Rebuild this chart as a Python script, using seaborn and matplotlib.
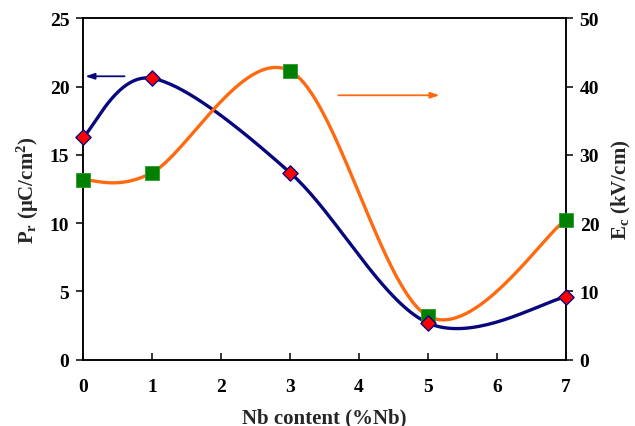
import numpy as np
import pandas as pd
import matplotlib
matplotlib.use("Agg")
import matplotlib.pyplot as plt
import seaborn as sns

# ---- data ----
nb_content = [0, 1, 3, 5, 7]                 # % Nb
pr_values = [16.3, 20.6, 13.7, 2.7, 4.6]     # Pr (uC/cm2), left axis
ec_values = [26.3, 27.4, 42.3, 6.4, 20.5]    # Ec (kV/cm), right axis
x_ticks = [0, 1, 2, 3, 4, 5, 6, 7]
pr_ticks = [0, 5, 10, 15, 20, 25]
ec_ticks = [0, 10, 20, 30, 40, 50]

sns.set_theme(style="ticks")
plt.rcParams["font.family"] = ["Liberation Serif", "DejaVu Serif"]
plt.rcParams["font.weight"] = "bold"
plt.rcParams["mathtext.fontset"] = "custom"
plt.rcParams["mathtext.rm"] = "Liberation Serif:bold"
plt.rcParams["mathtext.it"] = "Liberation Serif:bold"
plt.rcParams["mathtext.bf"] = "Liberation Serif:bold"


def smooth_curve(xs, ys, n=40):
    """Excel-style smoothed line: cubic Bezier segments through the data points."""
    P = np.column_stack([xs, ys]).astype(float)
    out = []
    for i in range(len(P) - 1):
        p0 = P[i - 1] if i > 0 else P[i]
        p1, p2 = P[i], P[i + 1]
        p3 = P[i + 2] if i + 2 < len(P) else P[i + 1]
        c1 = p1 + (p2 - p0) / 6.0
        c2 = p2 - (p3 - p1) / 6.0
        t = np.linspace(0, 1, n)[:, None]
        seg = ((1 - t) ** 3) * p1 + 3 * ((1 - t) ** 2) * t * c1 + 3 * (1 - t) * t ** 2 * c2 + t ** 3 * p2
        out.append(seg if i == 0 else seg[1:])
    seg = np.vstack(out)
    return pd.DataFrame({"x": seg[:, 0], "y": seg[:, 1]})


blue = "#08087e"
orange = "#ff6a10"

fig = plt.figure(figsize=(6.35, 4.27), dpi=100)
ax = fig.add_axes([0.131, 0.155, 0.760, 0.800])
ax2 = ax.twinx()

# Pr curve (left axis)
pr_smooth = smooth_curve(nb_content, pr_values)
sns.lineplot(data=pr_smooth, x="x", y="y", sort=False, estimator=None, ax=ax,
             color=blue, linewidth=2.4, zorder=3)

# Ec curve (right axis)
ec_smooth = smooth_curve(nb_content, ec_values)
sns.lineplot(data=ec_smooth, x="x", y="y", sort=False, estimator=None, ax=ax2,
             color=orange, linewidth=2.4, zorder=3)
sns.scatterplot(x=nb_content, y=ec_values, ax=ax2, marker="s", s=100,
                color="#008000", edgecolor="#2a9a2a", linewidth=0.6, zorder=4,
                clip_on=False)
# diamonds drawn on right axis scale (Pr x 2) so they sit on top of everything
sns.scatterplot(x=nb_content, y=[v * 2 for v in pr_values], ax=ax2, marker="D", s=60,
                color="#ff0000", edgecolor=blue, linewidth=1.0, zorder=5,
                clip_on=False)

ax.set_xlim(0, 7)
ax.set_ylim(0, 25)
ax2.set_ylim(0, 50)
ax.set_xticks(x_ticks)
ax.set_yticks(pr_ticks)
ax2.set_yticks(ec_ticks)

for a in (ax, ax2):
    for s in a.spines.values():
        s.set_linewidth(1.1)
        s.set_color("black")
    a.set_xlabel("")
    a.set_ylabel("")

ax.tick_params(axis="x", direction="in", length=5, width=1.1, labelsize=14, pad=13, colors="black")
ax.tick_params(axis="y", direction="out", length=5, width=1.1, labelsize=14, pad=5, colors="black")
ax2.tick_params(axis="y", direction="out", length=5, width=1.1, labelsize=14, pad=5, colors="black")
for lab in ax.get_xticklabels() + ax.get_yticklabels() + ax2.get_yticklabels():
    lab.set_fontweight("bold")

ax.set_xlabel("Nb content (%Nb)", fontsize=15, fontweight="bold", labelpad=9)
ax.set_ylabel(r"P$_\mathregular{r}$ (μC/cm$^\mathregular{2}$)", fontsize=15, fontweight="bold", labelpad=6)
ax2.set_ylabel(r"E$_\mathregular{c}$ (kV/cm)", fontsize=15, fontweight="bold",
               rotation=90, labelpad=8)

# direction arrows
ax.annotate("", xy=(0.03, 20.75), xytext=(0.60, 20.75),
            arrowprops=dict(arrowstyle="-|>,head_length=0.45,head_width=0.15",
                            color=blue, lw=1.3, shrinkA=0, shrinkB=0))
ax.annotate("", xy=(5.17, 19.36), xytext=(3.70, 19.36),
            arrowprops=dict(arrowstyle="-|>,head_length=0.45,head_width=0.15",
                            color=orange, lw=1.3, shrinkA=0, shrinkB=0))

fig.savefig("out.png", dpi=100, facecolor="white")
